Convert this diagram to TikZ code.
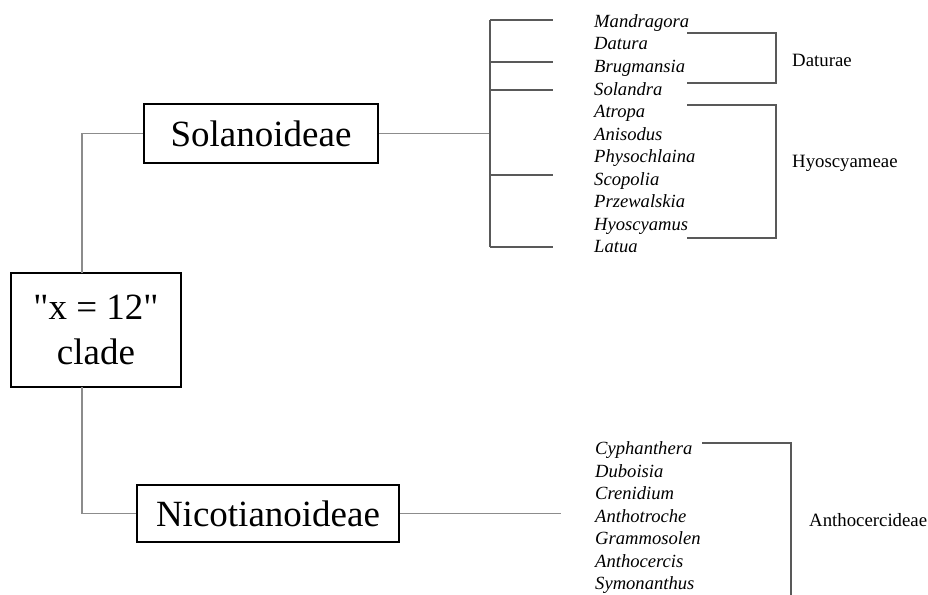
\documentclass[tikz,border=0pt]{standalone}
\usepackage{fontspec}
\setmainfont{Liberation Serif}
\newfontfamily\rawserif{Liberation Serif}[Ligatures=ResetAll]
\begin{document}
\begin{tikzpicture}[x=1pt,y=-1pt,
  bigbox/.style={draw=black,line width=2pt,inner sep=0pt,align=center,font=\fontsize{37}{45}\selectfont},
  genus/.style={anchor=west,inner sep=0pt,font=\fontsize{18.6}{22}\selectfont\itshape,text height=13pt,text depth=4pt},
  tribe/.style={anchor=west,inner sep=0pt,font=\fontsize{18.8}{22}\selectfont,text height=13pt,text depth=4pt},
  conn/.style={draw=black!45,line width=1.3pt},
  dark/.style={draw=black!65,line width=1.2pt},
  brk/.style={draw=black!65,line width=1.2pt}]
\useasboundingbox (0,0) rectangle (928,594);
% main boxes
\node[bigbox,minimum width=234pt,minimum height=59pt] (sol) at (261,133.5) {Solanoideae};
\node[bigbox,minimum width=262pt,minimum height=57pt] (nic) at (268,513.5) {Nicotianoideae};
\node[bigbox,minimum width=170pt,minimum height=114pt,font=\fontsize{37}{45}\selectfont\rawserif] (clade) at (96,330) {"x = 12"\\clade};
% tree connectors
\coordinate (ct) at (82,273);
\coordinate (cb) at (82,387);
\draw[conn] (ct) |- (sol.west);
\draw[conn] (cb) |- (nic.west);
\coordinate (sj) at (490,133.5);
\draw[conn] (sol.east) -- (sj);
\coordinate (vt) at (490,20);
\coordinate (vb) at (490,247);
\draw[dark] (vt) -- (vb);
\foreach \yy/\nm in {20/a,62/b,90/c,175/d,247/e}{
  \coordinate (t\nm0) at (490,\yy);
  \coordinate (t\nm1) at (553,\yy);
  \draw[dark] (t\nm0) -- (t\nm1);
}
\coordinate (nj) at (561,513.5);
\draw[conn] (nic.east) -- (nj);
% genus names
\foreach \nm [count=\i from 0] in {Mandragora,Datura,Brugmansia,Solandra,Atropa,Anisodus,Physochlaina,Scopolia,Przewalskia,Hyoscyamus,Latua}{
  \node[genus] (g\i) at (594,23+22.5*\i) {\nm};
}
\foreach \nm [count=\i from 0] in {Cyphanthera,Duboisia,Crenidium,Anthotroche,Grammosolen,Anthocercis,Symonanthus}{
  \node[genus] (h\i) at (595,450+22.5*\i) {\nm};
}
% brackets
\coordinate (d1) at (687,33);
\coordinate (d2) at (687,83);
\draw[brk] (d1) -- (776,33) -- (776,83) -- (d2);
\node[tribe] (dat) at (792,62) {Daturae};
\coordinate (y1) at (687,105);
\coordinate (y2) at (687,238);
\draw[brk] (y1) -- (776,105) -- (776,238) -- (y2);
\node[tribe] (hyo) at (792,163) {Hyoscyameae};
\coordinate (a1) at (702,443);
\coordinate (a2) at (791,595);
\draw[brk] (a1) -| (a2);
\node[tribe] (ant) at (809,522) {Anthocercideae};
\end{tikzpicture}
\end{document}
